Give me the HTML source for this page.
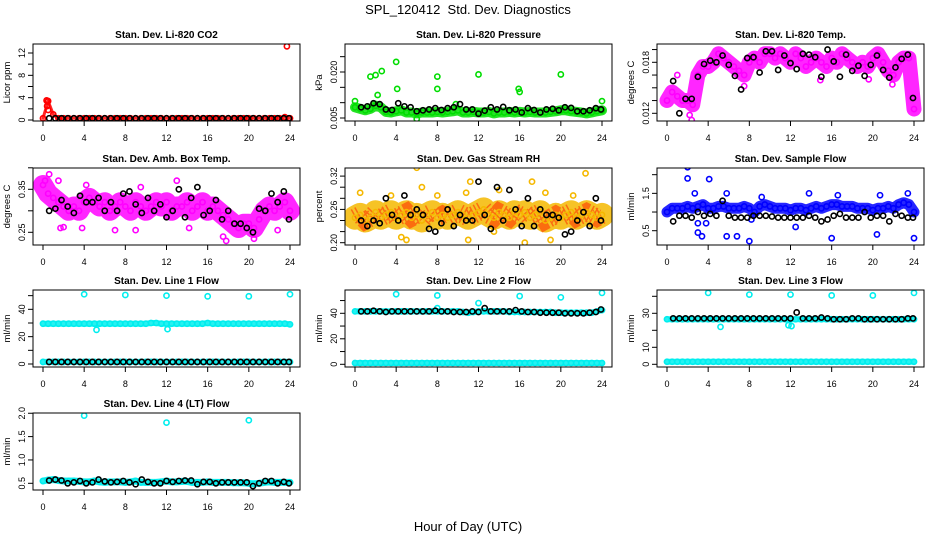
<!DOCTYPE html>
<html><head><meta charset="utf-8">
<style>
html,body{margin:0;padding:0;background:#fff;}
svg{display:block;font-family:"Liberation Sans",sans-serif;}
</style></head>
<body>
<svg id="chart" width="936" height="540" viewBox="0 0 936 540">
<text x="468" y="14" text-anchor="middle" font-size="13" style="white-space:pre">SPL_120412  Std. Dev. Diagnostics</text>
<text x="468" y="531" text-anchor="middle" font-size="13">Hour of Day (UTC)</text>
</svg>
<script>
const xTicks = [0,4,8,12,16,20,24];
const colorHours = [0,0.5,1,1.5,2,2.5,3,3.5,4,4.5,5,5.5,6,6.5,7,7.5,8,8.5,9,9.5,10,10.5,11,11.5,12,12.5,13,13.5,14,14.5,15,15.5,16,16.5,17,17.5,18,18.5,19,19.5,20,20.5,21,21.5,22,22.5,23,23.5,24];
const blackHours = [0.6,1.2,1.8,2.4,3.0,3.6,4.2,4.8,5.4,6.0,6.6,7.2,7.8,8.4,9.0,9.6,10.2,10.8,11.4,12.0,12.6,13.2,13.8,14.4,15.0,15.6,16.2,16.8,17.4,18.0,18.6,19.2,19.8,20.4,21.0,21.6,22.2,22.8,23.4,23.9];

// Panel 1 CO2
const co2Color = [0.3,3.4,1.0,0.3,0.3,0.3,0.3,0.3,0.3,0.3,0.3,0.3,0.3,0.3,0.3,0.3,0.3,0.3,0.3,0.3,0.3,0.3,0.3,0.3,0.3,0.3,0.3,0.3,0.3,0.3,0.3,0.3,0.3,0.3,0.3,0.3,0.3,0.3,0.3,0.3,0.3,0.3,0.3,0.3,0.3,0.3,0.3,0.5,0.3];
const co2OutH = [0.35,0.45,0.4,0.5,23.7];
const co2OutV = [3.5,3.3,2.5,1.8,13.2];
const co2Black = [0.3,0.3,0.3,0.3,0.3,0.3,0.3,0.3,0.3,0.3,0.3,0.3,0.3,0.3,0.3,0.3,0.3,0.3,0.3,0.3,0.3,0.3,0.3,0.3,0.3,0.3,0.3,0.3,0.3,0.3,0.3,0.3,0.3,0.3,0.3,0.3,0.3,0.3,0.3,0.3];
// Panel 2 Pressure
const presColor = [0.0085,0.008,0.0075,0.008,0.009,0.0085,0.007,0.0068,0.0072,0.0075,0.0068,0.0068,0.0065,0.0068,0.0068,0.0068,0.007,0.0068,0.007,0.0072,0.0075,0.0068,0.0068,0.007,0.0068,0.0068,0.007,0.0065,0.0068,0.0068,0.007,0.0068,0.007,0.0068,0.007,0.0068,0.0068,0.0068,0.007,0.0072,0.0075,0.0075,0.0072,0.007,0.0068,0.0065,0.0068,0.0072,0.0075];
const presOutH = [4.0,2.6,1.5,2.0,4.1,8.0,8.0,12.0,15.9,16.0,20.0,24,6.0,0,2.2,9.8];
const presOutV = [0.0233,0.0203,0.0185,0.019,0.0145,0.0185,0.0145,0.0192,0.0145,0.0135,0.0192,0.0105,0.0047,0.0105,0.0125,0.0095];
const presBlack = [0.0085,0.0088,0.0098,0.0095,0.0078,0.0076,0.0098,0.0088,0.0085,0.0072,0.0075,0.0078,0.0082,0.0076,0.0082,0.0085,0.0095,0.0078,0.0078,0.0064,0.0074,0.0085,0.0078,0.0086,0.0075,0.0078,0.0068,0.0082,0.0076,0.0068,0.0078,0.008,0.0075,0.0085,0.0083,0.0072,0.0072,0.0075,0.0082,0.0078];
// Panel 3 Li-820 Temp
const tempColor = [0.0135,0.0145,0.014,0.0135,0.0135,0.013,0.0165,0.0175,0.0175,0.018,0.019,0.0185,0.018,0.0175,0.017,0.0165,0.018,0.0185,0.018,0.019,0.019,0.0185,0.019,0.0185,0.018,0.019,0.0185,0.0175,0.018,0.0185,0.018,0.0175,0.0185,0.018,0.019,0.0185,0.018,0.0175,0.018,0.0175,0.0185,0.019,0.018,0.017,0.0165,0.018,0.0185,0.0185,0.0125];
const tempOutH = [2.2,2.4,1.0,14.9,21.9,19.6,7.5];
const tempOutV = [0.0118,0.0112,0.0165,0.0159,0.0154,0.0160,0.0152];
const tempBlack = [0.0158,0.012,0.0137,0.0137,0.0163,0.0178,0.0182,0.018,0.0188,0.0177,0.0164,0.0148,0.0185,0.0186,0.0168,0.0193,0.0193,0.0171,0.0188,0.0179,0.0172,0.019,0.0189,0.0186,0.0163,0.0195,0.0181,0.0163,0.0189,0.017,0.0176,0.0164,0.0177,0.0188,0.0171,0.0162,0.0174,0.0184,0.0189,0.0138];
// Panel 4 Amb Box Temp
const ambColor = [0.36,0.34,0.33,0.32,0.31,0.30,0.31,0.30,0.32,0.33,0.32,0.31,0.32,0.30,0.31,0.32,0.31,0.30,0.32,0.31,0.30,0.31,0.32,0.31,0.32,0.30,0.31,0.31,0.32,0.30,0.31,0.32,0.30,0.31,0.30,0.29,0.28,0.27,0.26,0.27,0.27,0.26,0.28,0.30,0.31,0.30,0.31,0.32,0.30];
const ambOutH = [0.6,1.5,1.7,2.0,3.8,4.2,9.5,13,17.5,17.8,20.5,22.8,7,9,14.2,0.2];
const ambOutV = [0.385,0.37,0.26,0.262,0.26,0.36,0.355,0.37,0.24,0.23,0.235,0.255,0.255,0.255,0.26,0.37];
const ambBlack = [0.30,0.305,0.325,0.31,0.295,0.335,0.32,0.32,0.33,0.30,0.32,0.30,0.34,0.345,0.315,0.295,0.33,0.30,0.315,0.285,0.30,0.35,0.285,0.33,0.355,0.29,0.30,0.325,0.28,0.30,0.27,0.27,0.26,0.25,0.305,0.30,0.34,0.32,0.345,0.28];
// Panel 5 Gas Stream RH
const rhColor = [0.245,0.25,0.24,0.245,0.255,0.245,0.25,0.255,0.245,0.25,0.255,0.245,0.25,0.24,0.25,0.255,0.245,0.25,0.245,0.25,0.255,0.25,0.245,0.25,0.255,0.26,0.25,0.245,0.255,0.25,0.245,0.255,0.25,0.255,0.245,0.25,0.255,0.24,0.245,0.25,0.245,0.25,0.255,0.245,0.25,0.255,0.25,0.245,0.25];
const rhOutH = [6,22.4,6.5,11.2,17.2,0.5,16.5,19,11,4.5,5,14,3.5,8,10.8,13.5,18.5,21.2];
const rhOutV = [0.335,0.325,0.30,0.31,0.31,0.29,0.20,0.205,0.205,0.21,0.205,0.295,0.285,0.285,0.29,0.22,0.29,0.285];
const rhBlack = [0.24,0.23,0.24,0.235,0.28,0.25,0.24,0.285,0.25,0.26,0.25,0.225,0.22,0.235,0.26,0.23,0.25,0.24,0.24,0.31,0.25,0.225,0.30,0.24,0.295,0.26,0.23,0.28,0.23,0.26,0.25,0.25,0.245,0.215,0.22,0.24,0.255,0.23,0.28,0.24];
// Panel 6 Sample Flow
const flowColor = [1.0,1.1,1.1,1.1,1.15,1.1,1.15,1.2,1.1,1.1,1.15,1.15,1.1,1.1,1.1,1.15,1.1,1.0,1.15,1.2,1.15,1.1,1.1,1.1,1.05,1.1,1.1,1.05,1.1,1.15,1.1,1.15,1.2,1.2,1.15,1.15,1.15,1.1,1.1,1.1,1.05,1.1,1.1,1.15,1.1,1.2,1.25,1.2,1.0];
const flowOutH = [2,2,4.1,2.7,5.8,3,3.8,3,3.4,5.8,6.8,8,16,20.4,24,13.8,20.7,23.4,12.5,8.2,9.2,16.6];
const flowOutV = [2.2,1.9,1.88,1.5,1.5,0.7,0.7,0.45,0.35,0.35,0.35,0.22,0.3,0.4,0.3,1.5,1.45,1.5,0.6,0.8,1.4,1.45];
const flowBlack = [0.75,0.9,0.9,0.85,1.0,0.9,0.95,0.9,1.3,0.9,0.85,0.85,0.85,0.9,0.9,0.9,0.88,0.85,0.85,0.85,0.85,0.85,0.9,0.85,0.75,0.8,0.9,0.95,0.85,0.85,0.85,1.0,0.85,0.9,0.9,0.75,0.95,0.9,0.85,0.85];
// Panel 7 Line 1
const l1High = [29.5,29.5,29.5,29.5,29.5,29.5,29.5,29.5,29.5,29.5,29.5,29.5,29.5,29.5,29.5,29.5,29.5,29.5,29.5,29.5,29.5,30,30,29.5,29.5,29.5,29.5,29.5,29.5,29.5,29.5,29.5,30,29.5,29.5,29.5,29.5,29.5,29.5,29.5,29.5,29.5,29.5,29.5,29.5,29.5,29.5,29.5,29];
const l1Low = [1.5,1.5,1.5,1.5,1.5,1.5,1.5,1.5,1.5,1.5,1.5,1.5,1.5,1.5,1.5,1.5,1.5,1.5,1.5,1.5,1.5,1.5,1.5,1.5,1.5,1.5,1.5,1.5,1.5,1.5,1.5,1.5,1.5,1.5,1.5,1.5,1.5,1.5,1.5,1.5,1.5,1.5,1.5,1.5,1.5,1.5,1.5,1.5,1.5];
const l1OutH = [4,8,12,16,20,24,5.2,12.1];
const l1OutV = [51,50.5,50,49.5,49.5,51,25,25.5];
const l1Black = [1.5,1.5,1.5,1.5,1.5,1.5,1.5,1.5,1.5,1.5,1.5,1.5,1.5,1.5,1.5,1.5,1.5,1.5,1.5,1.5,1.5,1.5,1.5,1.5,1.5,1.5,1.5,1.5,1.5,1.5,1.5,1.5,1.5,1.5,1.5,1.5,1.5,1.5,1.5,1.5];
// Panel 8 Line 2
const l2High = [41.5,41.5,41.5,41.5,41.5,41.5,41.5,41.5,41.5,41.5,41.5,41.5,41.5,41.5,41.5,41.5,41.5,41.5,41.5,41.5,41.5,41,40.5,41,41.5,41.5,41.5,41.5,41.5,41.5,41,41,41,41,41,41,41,41,41,40.5,40.5,40.5,40.5,40.5,40.5,40.5,40.5,41.5,42.5];
const l2Low = [1,1,1,1,1,1,1,1,1,1,1,1,1,1,1,1,1,1,1,1,1,1,1,1,1,1,1,1,1,1,1,1,1,1,1,1,1,1,1,1,1,1,1,1,1,1,1,1,1];
const l2OutH = [4,8,16,20,24,12,8];
const l2OutV = [55,54,53.5,52.5,56,48,44];
const l2Black = [41.5,41.5,42,41.5,41,41.5,41.5,41.5,41.5,41.5,41.5,41.5,42,41.5,41.5,41,41,41,41.5,41,44,41.5,41.5,41.5,41.5,42.5,41.5,41,41,40.5,40.5,40.5,40.5,40,40,40,40,40.5,41,43];
// Panel 9 Line 3
const l3High = [26.5,26.5,26.5,26.5,26.5,26.5,26.5,26.5,26.5,26.5,26.5,26.5,26.5,26.5,26.5,26.5,26.5,26.5,26.5,26.5,26.5,26.5,26.5,26.5,26.5,26.5,26.5,26.5,26.5,26.5,26.5,26.5,26.5,26.5,26.5,26.5,26.5,26.5,26.5,26.5,26.5,26.5,26.5,26.5,26.5,26.5,26.5,26.5,26.5];
const l3Low = [1.5,1.5,1.5,1.5,1.5,1.5,1.5,1.5,1.5,1.5,1.5,1.5,1.5,1.5,1.5,1.5,1.5,1.5,1.5,1.5,1.5,1.5,1.5,1.5,1.5,1.5,1.5,1.5,1.5,1.5,1.5,1.5,1.5,1.5,1.5,1.5,1.5,1.5,1.5,1.5,1.5,1.5,1.5,1.5,1.5,1.5,1.5,1.5,1.5];
const l3OutH = [4,8,12,16,20,24,5.2,11.8,12.1];
const l3OutV = [42,41,41,40.5,40.5,42,22,23,22.5];
const l3Black = [27,27,27,27,27,27,27,27,27,27,27,27,27,27,27,27,27,27,27,27,30.5,27,27,27,27.5,27,26.5,26.5,26.5,27,27,26.5,26.5,26.5,26.5,26.5,26.5,26.5,27,27];
// Panel 10 Line 4
const l4Color = [0.55,0.57,0.58,0.56,0.55,0.55,0.55,0.54,0.53,0.53,0.55,0.53,0.52,0.53,0.53,0.53,0.52,0.53,0.55,0.52,0.52,0.52,0.52,0.53,0.55,0.53,0.53,0.54,0.54,0.52,0.52,0.52,0.53,0.52,0.52,0.52,0.52,0.51,0.51,0.51,0.5,0.49,0.5,0.52,0.53,0.52,0.52,0.52,0.52];
const l4OutH = [4,12,20];
const l4OutV = [1.95,1.8,1.85];
const l4Black = [0.56,0.58,0.56,0.5,0.52,0.55,0.5,0.52,0.58,0.54,0.52,0.53,0.55,0.52,0.48,0.58,0.53,0.5,0.5,0.55,0.53,0.55,0.56,0.56,0.48,0.53,0.53,0.5,0.52,0.52,0.52,0.52,0.52,0.44,0.5,0.55,0.55,0.5,0.53,0.5];

const NS = "http://www.w3.org/2000/svg";
const svg = document.getElementById('chart');
const colL = [33,345,657], rowT = [44,168,290,413], BW = 267, BH = 77;

function mk(tag, attrs, parent){
  const e = document.createElementNS(NS, tag);
  for (const k in attrs) e.setAttribute(k, attrs[k]);
  (parent||svg).appendChild(e);
  return e;
}

const panels = [
  {title:'Stan. Dev. Li-820 CO2', ylab:'Licor ppm', col:0,row:0, ref:0, refPx:120, ppu:67/12, ticks:[0,2,4,6,8,10,12], labels:[0,4,8,12], fmt:0,
   color:'#ff0000', series:[co2Color], band:3, oh:co2OutH, ov:co2OutV, black:co2Black},
  {title:'Stan. Dev. Li-820 Pressure', ylab:'kPa', col:1,row:0, ref:0.005, refPx:118, ppu:46/0.015, ticks:[0.005,0.010,0.015,0.020,0.025], labels:[0.005,0.020], fmt:3,
   color:'#00dd00', series:[presColor], band:10, oh:presOutH, ov:presOutV, black:presBlack},
  {title:'Stan. Dev. Li-820 Temp.', ylab:'degrees C', col:2,row:0, ref:0.012, refPx:113.3, ppu:51/0.006, ticks:[0.012,0.0135,0.015,0.0165,0.018,0.0195], labels:[0.012,0.018], fmt:3,
   color:'#ff00ff', series:[tempColor], band:15, oh:tempOutH, ov:tempOutV, black:tempBlack},
  {title:'Stan. Dev. Amb. Box Temp.', ylab:'degrees C', col:0,row:1, ref:0.25, refPx:232.3, ppu:430, ticks:[0.25,0.30,0.35,0.40], labels:[0.25,0.35], fmt:2,
   color:'#ff00ff', series:[ambColor], band:20, oh:ambOutH, ov:ambOutV, black:ambBlack},
  {title:'Stan. Dev. Gas Stream RH', ylab:'percent', col:1,row:1, ref:0.20, refPx:242.7, ppu:555, ticks:[0.20,0.22,0.24,0.26,0.28,0.30,0.32], labels:[0.20,0.26,0.32], fmt:2,
   color:'#f5b800', inner:'#ff3300', series:[rhColor], band:24, oh:rhOutH, ov:rhOutV, black:rhBlack},
  {title:'Stan. Dev. Sample Flow', ylab:'ml/min', col:2,row:1, ref:0.5, refPx:230.7, ppu:37.35, ticks:[0.5,1.0,1.5,2.0], labels:[0.5,1.5], fmt:1,
   color:'#0000ff', series:[flowColor], band:11, oh:flowOutH, ov:flowOutV, black:flowBlack},
  {title:'Stan. Dev. Line 1 Flow', ylab:'ml/min', col:0,row:2, ref:0, refPx:364, ppu:1.367, ticks:[0,10,20,30,40,50], labels:[0,20,40], fmt:0,
   color:'#00eeee', series:[l1High,l1Low], band:6, oh:l1OutH, ov:l1OutV, black:l1Black},
  {title:'Stan. Dev. Line 2 Flow', ylab:'ml/min', col:1,row:2, ref:0, refPx:364.3, ppu:1.275, ticks:[0,10,20,30,40,50], labels:[0,20,40], fmt:0,
   color:'#00eeee', series:[l2High,l2Low], band:6, oh:l2OutH, ov:l2OutV, black:l2Black},
  {title:'Stan. Dev. Line 3 Flow', ylab:'ml/min', col:2,row:2, ref:0, refPx:364.3, ppu:1.7, ticks:[0,10,20,30,40], labels:[0,10,30], fmt:0,
   color:'#00eeee', series:[l3High,l3Low], band:6, oh:l3OutH, ov:l3OutV, black:l3Black},
  {title:'Stan. Dev. Line 4 (LT) Flow', ylab:'ml/min', col:0,row:3, ref:0.5, refPx:483.3, ppu:46.7, ticks:[0.5,1.0,1.5,2.0], labels:[0.5,1.0,1.5,2.0], fmt:1,
   color:'#00eeee', series:[l4Color], band:7, oh:l4OutH, ov:l4OutV, black:l4Black}
];

panels.forEach((p, i) => {
  const L = colL[p.col], T = rowT[p.row];
  const g = mk('g', {});
  
  
  const xs = h => L + 10 + h * 247 / 24;
  const ys = v => p.refPx - (v - p.ref) * p.ppu;
  const clip = mk('clipPath', {id:'c'+i}, g);
  mk('rect', {x:L, y:T, width:BW, height:BH}, clip);

  const t = mk('text', {x:L+BW/2, y:T-6, 'text-anchor':'middle', 'font-size':'10', 'font-weight':'bold'}, g);
  t.textContent = p.title;
  
  

  const yl = mk('text', {x:0, y:0, 'text-anchor':'middle', 'font-size':'9.5', transform:`translate(${L-23},${T+BH/2}) rotate(-90)`}, g);
  yl.textContent = p.ylab;
  
  

  const dg = mk('g', {'clip-path':`url(#c${i})`}, g);
  
  
  p.series.forEach(s => {
    const pts = s.map((v, k) => xs(colorHours[k]).toFixed(1) + ',' + ys(v).toFixed(1)).join(' ');
    const band = mk('polyline', {points:pts, fill:'none', stroke:p.color, 'stroke-width':p.band, 'stroke-linejoin':'round', 'stroke-linecap':'round', opacity:'0.85'}, dg);
    
    
    if (p.inner) {
      const ib = mk('polyline', {points:pts, fill:'none', stroke:p.inner, 'stroke-width':p.band-6, 'stroke-dasharray':'1.5 2.5', opacity:'0.6'}, dg);
      
      
    }
    s.forEach((v, k) => {
      const c = mk('circle', {cx:xs(colorHours[k]), cy:ys(v), r:2.6, fill:'none', stroke:p.color, 'stroke-width':1.6}, dg);
      
      
    });
  });
  p.oh.forEach((h, k) => {
    const c = mk('circle', {cx:xs(h), cy:ys(p.ov[k]), r:2.6, fill:'none', stroke:p.color, 'stroke-width':1.6}, dg);
    
    
  });
  p.black.forEach((v, k) => {
    const c = mk('circle', {cx:xs(blackHours[k]), cy:ys(v), r:2.6, fill:'none', stroke:'#000', 'stroke-width':1.6}, dg);
    
    
  });

  const box = mk('rect', {x:L, y:T, width:BW, height:BH, fill:'none', stroke:'#000', 'stroke-width':1}, g);
  
  

  mk('line', {x1:xs(0), x2:xs(24), y1:T+BH, y2:T+BH, stroke:'#000'}, g);
  xTicks.forEach(h => {
    mk('line', {x1:xs(h), x2:xs(h), y1:T+BH, y2:T+BH+5, stroke:'#000'}, g);
    const tl = mk('text', {x:xs(h), y:T+BH+20, 'text-anchor':'middle', 'font-size':'9'}, g);
    tl.textContent = h;
    
    
  });
  mk('line', {x1:L, x2:L, y1:ys(p.ticks[0]), y2:ys(p.ticks[p.ticks.length-1]), stroke:'#000'}, g);
  p.ticks.forEach(v => {
    mk('line', {x1:L-5, x2:L, y1:ys(v), y2:ys(v), stroke:'#000'}, g);
  });
  p.labels.forEach(v => {
    const tl = mk('text', {x:0, y:0, 'text-anchor':'middle', 'font-size':'9', transform:`translate(${L-8},${ys(v)}) rotate(-90)`}, g);
    tl.textContent = v.toFixed(p.fmt);
    
    
  });
});
</script>
</body></html>
